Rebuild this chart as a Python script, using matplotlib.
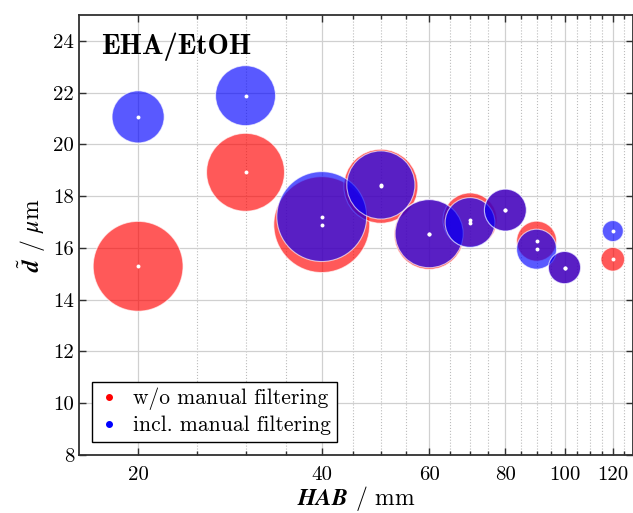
import numpy as np
import matplotlib
matplotlib.use('Agg')
import matplotlib.pyplot as plt
from matplotlib.lines import Line2D
from matplotlib.ticker import FixedLocator, NullFormatter

plt.rcParams['font.family'] = ['cmr10', 'DejaVu Serif']
plt.rcParams['mathtext.fontset'] = 'cm'
plt.rcParams['axes.unicode_minus'] = False

# height above burner / mm
hab = [20, 30, 40, 50, 60, 70, 80, 90, 100, 120]
# mean diameter / um
d_red = [15.29, 18.92, 16.90, 18.38, 16.52, 17.08, 17.46, 16.26, 15.24, 15.56]
d_blue = [21.06, 21.88, 17.21, 18.43, 16.55, 16.98, 17.46, 15.95, 15.24, 16.65]
# bubble weights (number of droplets, arbitrary units)
w_red = [202, 152, 230, 137, 122, 73, 44, 40, 26, 14]
w_blue = [68, 90, 202, 116, 116, 62, 44, 40, 26, 11]

labels = ['w/o manual filtering', 'incl. manual filtering']
xticks = [20, 40, 60, 80, 100, 120]
yticks = [8, 10, 12, 14, 16, 18, 20, 22, 24]

dpi = 100
scale = 10 * (2 * 72 / dpi) ** 2

fig = plt.figure(figsize=(6.33, 5.13), dpi=dpi)
ax = fig.add_axes([0.1248, 0.113, 0.8752, 0.858])

ax.scatter(hab, d_red, s=np.array(w_red) * scale, color='red', alpha=0.65,
           edgecolors='white', linewidths=0.8, zorder=2)
ax.scatter(hab, d_blue, s=np.array(w_blue) * scale, color='blue', alpha=0.65,
           edgecolors='white', linewidths=0.8, zorder=2)
ax.scatter(hab + hab, d_red + d_blue, s=8, color='white', linewidths=0, zorder=3)

ax.set_xscale('log')
ax.set_xlim(16, 129.5)
ax.set_ylim(8, 25)
ax.xaxis.set_major_locator(FixedLocator(xticks))
ax.set_xticklabels([str(t) for t in xticks])
ax.xaxis.set_minor_locator(FixedLocator([m for m in range(15, 135, 5) if m not in xticks]))
ax.xaxis.set_minor_formatter(NullFormatter())
ax.set_yticks(yticks)
ax.set_yticklabels([str(t) for t in yticks])

ax.grid(True, which='major', color='#d0d0d0', lw=0.9, ls='-', zorder=0)
ax.grid(True, which='minor', axis='x', color='#bcbcbc', lw=0.8, ls=':', zorder=0)
ax.set_axisbelow(True)

ax.tick_params(which='both', direction='in', top=True, right=True, labelsize=15,
               width=1.0, color='#303030')
ax.tick_params(which='major', length=5)
ax.tick_params(which='minor', length=3)
ax.tick_params(axis='x', pad=8)
for sp in ax.spines.values():
    sp.set_linewidth(1.3)
    sp.set_color('#303030')

ax.set_xlabel(r'$\mathbfit{HAB}$ / mm', fontsize=17, math_fontfamily='stix', labelpad=0)
ax.set_ylabel(r'$\tilde{\mathbfit{d}}$ / $\mu$m', fontsize=17, math_fontfamily='stix', labelpad=4)

ax.text(0.04, 0.911, 'EHA/EtOH', transform=ax.transAxes, fontsize=20.5,
        family='cmb10', ha='left', va='baseline')

handles = [Line2D([], [], ls='', marker='o', color='red', markersize=4),
           Line2D([], [], ls='', marker='o', color='blue', markersize=4)]
leg = ax.legend(handles, labels, loc='lower left', bbox_to_anchor=(0.023, 0.03),
                borderaxespad=0, fontsize=15.5, fancybox=False, framealpha=1,
                edgecolor='black', handlelength=1.0, handletextpad=0.6,
                borderpad=0.3, labelspacing=0.25)
leg.get_frame().set_linewidth(1.0)

fig.savefig('out.png', dpi=dpi)
